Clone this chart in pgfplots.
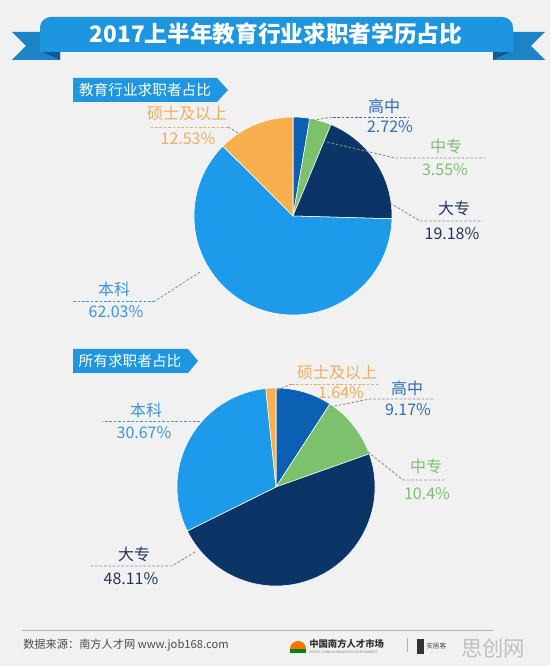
\documentclass[border=0pt]{standalone}
\usepackage{fontspec}
\setmainfont{Noto Sans CJK SC}
\usepackage{pgfplots}
\pgfplotsset{compat=1.18}
\definecolor{bgc}{HTML}{F1F1F1}
\definecolor{banner}{HTML}{1E96DF}
\definecolor{tail}{HTML}{1B83C6}
\definecolor{fold}{HTML}{0F5A92}
\definecolor{tagc}{HTML}{1E96E0}
\definecolor{bk}{HTML}{1D9BEA}
\definecolor{ss}{HTML}{F8AF4E}
\definecolor{gz}{HTML}{0C60B4}
\definecolor{zz}{HTML}{7CC26C}
\definecolor{dz}{HTML}{0B3567}
\definecolor{gzT}{HTML}{2F6DB5}
\definecolor{zzT}{HTML}{7EBF73}
\definecolor{dzT}{HTML}{20385A}
\definecolor{bkT}{HTML}{3A97D8}
\definecolor{ssT}{HTML}{EFAE5F}
\definecolor{lead}{HTML}{8A8A8A}
\begin{document}
\begin{tikzpicture}[
  lbl/.style={font=\fontsize{12}{14}\selectfont},
  ld/.style={draw=lead,line width=0.6pt,dash pattern=on 2pt off 1.3pt},
  ul/.style={line width=0.6pt,dash pattern=on 2pt off 1.3pt}]
\begin{axis}[width=412.5pt,height=499.5pt,scale only axis,
  xmin=0,xmax=550,ymin=0,ymax=666,axis lines=none,clip=false]
% background
\fill[bgc] (axis cs:0,0) rectangle (axis cs:550,666);
% banner
\fill[tail] (axis cs:12,634) -- (axis cs:60,634) -- (axis cs:60,606) -- (axis cs:12,606) -- (axis cs:26,620) -- cycle;
\fill[tail] (axis cs:545,634) -- (axis cs:493,634) -- (axis cs:493,606) -- (axis cs:545,606) -- (axis cs:531,620) -- cycle;
\fill[fold] (axis cs:43,614) -- (axis cs:60,614) -- (axis cs:60,606) -- cycle;
\fill[fold] (axis cs:510,614) -- (axis cs:493,614) -- (axis cs:493,606) -- cycle;
\fill[banner] (axis cs:40,614) [rounded corners=8pt] -- (axis cs:40,649) -- (axis cs:513,649) [sharp corners] -- (axis cs:513,614) -- cycle;
\node[text=white,font=\fontsize{17}{19}\selectfont\bfseries] at (axis cs:276,632) {2017上半年教育行业求职者学历占比};
% tags
\fill[tagc] (axis cs:73,588) -- (axis cs:217,588) -- (axis cs:228,576) -- (axis cs:217,564) -- (axis cs:73,564) -- cycle;
\node[text=white,font=\fontsize{11}{13}\selectfont] at (axis cs:145,576) {教育行业求职者占比};
\fill[tagc] (axis cs:73,317) -- (axis cs:188,317) -- (axis cs:198,305) -- (axis cs:188,293) -- (axis cs:73,293) -- cycle;
\node[text=white,font=\fontsize{11}{13}\selectfont] at (axis cs:130,305) {所有求职者占比};
% ---- Pie 1: 高中 2.72, 中专 3.55, 大专 19.18, 本科 62.03, 硕士及以上 12.53 (clockwise from top)
\filldraw[fill=gz,draw=white,line width=0.4pt] (axis cs:293,450) -- ++(90:74.25pt) arc[start angle=90, end angle={90-3.6*2.72}, radius=74.25pt] -- cycle;
\filldraw[fill=zz,draw=white,line width=0.4pt] (axis cs:293,450) -- ++({90-3.6*2.72}:74.25pt) arc[start angle={90-3.6*2.72}, end angle={90-3.6*(2.72+3.55)}, radius=74.25pt] -- cycle;
\filldraw[fill=dz,draw=white,line width=0.4pt] (axis cs:293,450) -- ++({90-3.6*6.27}:74.25pt) arc[start angle={90-3.6*6.27}, end angle={90-3.6*(6.27+19.18)}, radius=74.25pt] -- cycle;
\filldraw[fill=bk,draw=white,line width=0.4pt] (axis cs:293,450) -- ++({90-3.6*25.45}:74.25pt) arc[start angle={90-3.6*25.45}, end angle={90-3.6*(25.45+62.03)}, radius=74.25pt] -- cycle;
\filldraw[fill=ss,draw=white,line width=0.4pt] (axis cs:293,450) -- ++({90-3.6*87.48}:74.25pt) arc[start angle={90-3.6*87.48}, end angle=-270, radius=74.25pt] -- cycle;
% leaders pie 1
\addplot[ld,mark=none] coordinates {(308,545) (333,549)};
\addplot[ul,draw=gzT,mark=none] coordinates {(333,549) (408,549)};
\node[lbl,text=gzT] at (axis cs:384,560) {高中};
\node[lbl,text=gzT] at (axis cs:390,539) {2.72\%};
\addplot[ld,mark=none] coordinates {(327,524) (395,508) (485,508)};
\node[lbl,text=zzT] at (axis cs:446,520) {中专};
\node[lbl,text=zzT] at (axis cs:445,496) {3.55\%};
\addplot[ld,mark=none] coordinates {(390,463) (420,445) (482,445)};
\node[lbl,text=dzT] at (axis cs:454,458) {大专};
\node[lbl,text=dzT] at (axis cs:452,432) {19.18\%};
\addplot[ld,mark=none] coordinates {(200,394) (155,365)};
\addplot[ul,draw=bkT,mark=none] coordinates {(155,365) (73,365)};
\node[lbl,text=bkT] at (axis cs:114,377) {本科};
\node[lbl,text=bkT] at (axis cs:116,354) {62.03\%};
\addplot[ld,mark=none] coordinates {(238,533) (228,539)};
\addplot[ul,draw=ssT,mark=none] coordinates {(228,539) (150,539)};
\node[lbl,text=ssT] at (axis cs:187,552) {硕士及以上};
\node[lbl,text=ssT] at (axis cs:188,527) {12.53\%};
% ---- Pie 2: 高中 9.17, 中专 10.4, 大专 48.11, 本科 30.67, 硕士及以上 1.64
\filldraw[fill=gz,draw=white,line width=0.4pt] (axis cs:276,179) -- ++(90:74.25pt) arc[start angle=90, end angle={90-3.6*9.17}, radius=74.25pt] -- cycle;
\filldraw[fill=zz,draw=white,line width=0.4pt] (axis cs:276,179) -- ++({90-3.6*9.17}:74.25pt) arc[start angle={90-3.6*9.17}, end angle={90-3.6*(9.17+10.4)}, radius=74.25pt] -- cycle;
\filldraw[fill=dz,draw=white,line width=0.4pt] (axis cs:276,179) -- ++({90-3.6*19.57}:74.25pt) arc[start angle={90-3.6*19.57}, end angle={90-3.6*(19.57+48.11)}, radius=74.25pt] -- cycle;
\filldraw[fill=bk,draw=white,line width=0.4pt] (axis cs:276,179) -- ++({90-3.6*67.68}:74.25pt) arc[start angle={90-3.6*67.68}, end angle={90-3.6*(67.68+30.67)}, radius=74.25pt] -- cycle;
\filldraw[fill=ss,draw=white,line width=0.4pt] (axis cs:276,179) -- ++({90-3.6*98.35}:74.25pt) arc[start angle={90-3.6*98.35}, end angle=-270, radius=74.25pt] -- cycle;
% leaders pie 2
\addplot[ld,mark=none] coordinates {(277,276) (292,282)};
\addplot[ul,draw=ssT,mark=none] coordinates {(292,282) (380,282)};
\node[lbl,text=ssT] at (axis cs:337,294) {硕士及以上};
\node[lbl,text=ssT] at (axis cs:341,273) {1.64\%};
\addplot[ld,mark=none] coordinates {(330,259) (370,267) (435,267)};
\node[lbl,text=gzT] at (axis cs:407,278) {高中};
\node[lbl,text=gzT] at (axis cs:408,256) {9.17\%};
\addplot[ld,mark=none] coordinates {(368,214) (403,186) (445,186)};
\node[lbl,text=zzT] at (axis cs:426,200) {中专};
\node[lbl,text=zzT] at (axis cs:427,172) {10.4\%};
\addplot[ld,mark=none] coordinates {(195,114) (172,100) (90,100)};
\node[lbl,text=dzT] at (axis cs:134,112) {大专};
\node[lbl,text=dzT] at (axis cs:131,87) {48.11\%};
\addplot[ul,draw=bkT,mark=none] coordinates {(200,245) (102,245)};
\node[lbl,text=bkT] at (axis cs:146,256) {本科};
\node[lbl,text=bkT] at (axis cs:144,233) {30.67\%};
% footer
\draw[draw=gray!60,line width=0.6pt] (axis cs:22,36) -- (axis cs:493,36);
\node[anchor=west,text=black!70,font=\fontsize{8.4}{10}\selectfont,inner sep=0pt] at (axis cs:23,21) {数据来源：南方人才网 www.job168.com};
\fill[orange!90!red] (axis cs:290,17) arc[start angle=180,end angle=0,radius=6pt] -- cycle;
\fill[green!50!black] (axis cs:290,13) rectangle (axis cs:306,17);
\node[anchor=west,text=black!80,font=\fontsize{7}{8}\selectfont\bfseries,inner sep=0pt] at (axis cs:309,22) {中国南方人才市场};
\node[anchor=west,text=gray,font=\fontsize{2.5}{3}\selectfont,inner sep=0pt] at (axis cs:309,14) {SOUTH CHINA HUMAN RESOURCES MARKET};
\draw[gray!60,line width=0.5pt] (axis cs:407,28) -- (axis cs:407,14);
\fill[black!80] (axis cs:417,12) rectangle (axis cs:424,27);
\node[anchor=west,text=black!70,font=\fontsize{5}{6}\selectfont,inner sep=0pt] at (axis cs:426,20) {安居客};
\node[text=black!25,font=\fontsize{16}{18}\selectfont,inner sep=0pt] at (axis cs:493,18) {思创网};
\end{axis}
\end{tikzpicture}
\end{document}
